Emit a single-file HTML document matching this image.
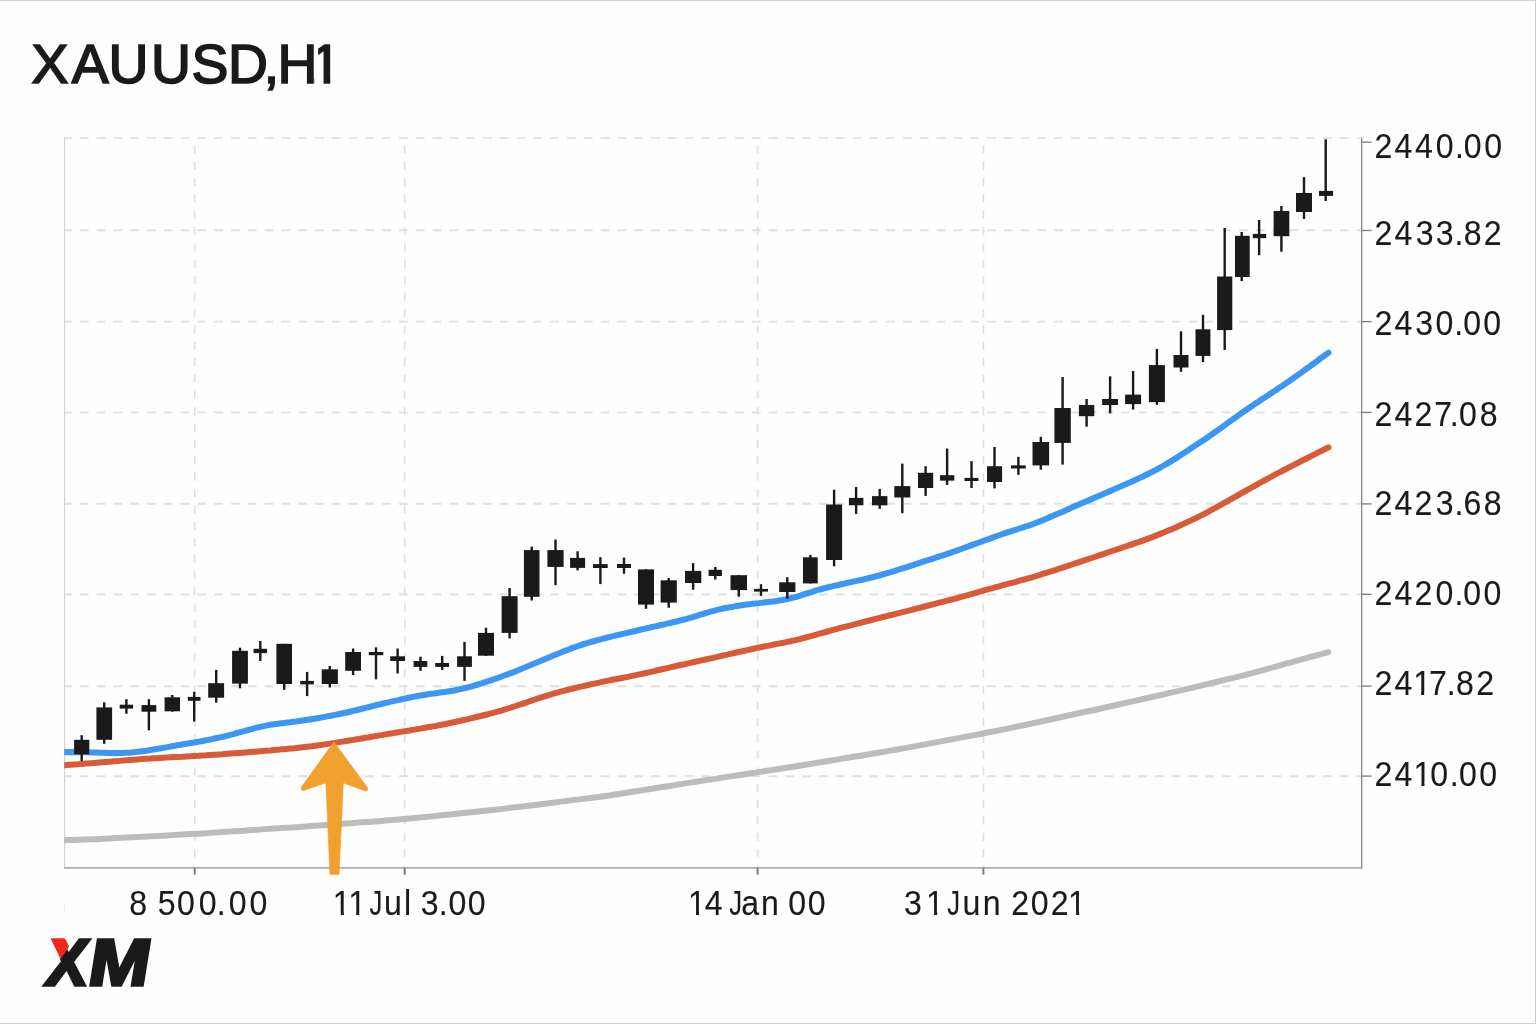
<!DOCTYPE html>
<html lang="en"><head><meta charset="utf-8"><title>XAUUSD,H1</title>
<style>
html,body{margin:0;padding:0;background:#fefefe;}
body{width:1536px;height:1024px;overflow:hidden;position:relative;}
svg{position:absolute;left:0;top:0;display:block;}
text{font-family:"Liberation Sans",sans-serif;fill:#1a1a1a;}
</style></head><body>
<svg width="1536" height="1024" viewBox="0 0 1536 1024">
<rect x="0" y="0" width="1536" height="1024" fill="#fefefe"/>
<rect x="0" y="0" width="1536" height="1" fill="#d4d4d4"/>
<rect x="0" y="1023" width="1536" height="1" fill="#d0d0d0"/>
<rect x="1535" y="0" width="1" height="1024" fill="#cdcdcd"/>
<g stroke="#e0e0e0" fill="none">
<g stroke-width="1.9" stroke-dasharray="8.7 8.1">
<line x1="63.04" y1="138.1" x2="1361" y2="138.1"/>
<line x1="63.04" y1="230.3" x2="1361" y2="230.3"/>
<line x1="63.04" y1="321.6" x2="1361" y2="321.6"/>
<line x1="63.04" y1="412.4" x2="1361" y2="412.4"/>
<line x1="63.04" y1="503.8" x2="1361" y2="503.8"/>
<line x1="63.04" y1="594.5" x2="1361" y2="594.5"/>
<line x1="63.04" y1="686.3" x2="1361" y2="686.3"/>
<line x1="63.04" y1="776.3" x2="1361" y2="776.3"/>
</g><g stroke-width="1.7" stroke-dasharray="8.2 8.17" stroke-dashoffset="9.17">
<line x1="194.7" y1="138" x2="194.7" y2="867"/>
<line x1="404.7" y1="138" x2="404.7" y2="867"/>
<line x1="757.6" y1="138" x2="757.6" y2="867"/>
<line x1="983.4" y1="138" x2="983.4" y2="867"/>
</g></g>
<rect x="62" y="130" width="1.9" height="745" fill="#fefefe"/>
<line x1="64.6" y1="136.8" x2="64.6" y2="868" stroke="#d3d3d3" stroke-width="1.15"/>
<line x1="64" y1="867.9" x2="1362.3" y2="867.9" stroke="#adadad" stroke-width="1.6"/>
<line x1="1361.7" y1="137.6" x2="1361.7" y2="868.6" stroke="#7c7c7c" stroke-width="1.2"/>
<line x1="64.5" y1="903" x2="64.5" y2="911" stroke="#f1f1f1" stroke-width="1.2"/>
<g stroke="#7e7e7e" stroke-width="1.35">
<line x1="1361.7" y1="142.2" x2="1371.6" y2="142.2"/>
<line x1="1361.7" y1="230.5" x2="1371.6" y2="230.5"/>
<line x1="1361.7" y1="321.6" x2="1371.6" y2="321.6"/>
<line x1="1361.7" y1="412.4" x2="1371.6" y2="412.4"/>
<line x1="1361.7" y1="503.9" x2="1371.6" y2="503.9"/>
<line x1="1361.7" y1="594.3" x2="1371.6" y2="594.3"/>
<line x1="1361.7" y1="686.1" x2="1371.6" y2="686.1"/>
<line x1="1361.7" y1="776.1" x2="1371.6" y2="776.1"/>
</g><g stroke="#757575" stroke-width="1.9">
<line x1="194.7" y1="867.9" x2="194.7" y2="874.6"/>
<line x1="404.7" y1="867.9" x2="404.7" y2="874.6"/>
<line x1="757.6" y1="867.9" x2="757.6" y2="874.6"/>
<line x1="983.4" y1="867.9" x2="983.4" y2="874.6"/>
</g>
<clipPath id="plot"><rect x="64.2" y="130" width="1290" height="745"/></clipPath>
<g clip-path="url(#plot)" fill="none" stroke-linecap="round" stroke-linejoin="round">
<path d="M62.0,840.4C64.7,840.3 72.7,840.0 78.0,839.8C83.4,839.6 88.7,839.4 94.1,839.2C99.4,839.0 104.7,838.7 110.1,838.4C115.4,838.2 120.8,837.9 126.1,837.6C131.5,837.3 136.8,837.0 142.1,836.7C147.5,836.4 152.8,836.1 158.2,835.9C163.5,835.6 168.9,835.3 174.2,835.0C179.5,834.7 184.9,834.4 190.2,834.1C195.6,833.8 200.9,833.5 206.3,833.2C211.6,832.8 216.9,832.5 222.3,832.1C227.6,831.7 233.0,831.4 238.3,831.0C243.7,830.7 249.0,830.3 254.3,829.9C259.7,829.6 265.0,829.2 270.4,828.8C275.7,828.5 281.1,828.1 286.4,827.8C291.8,827.4 297.1,827.0 302.4,826.7C307.8,826.3 313.1,825.9 318.5,825.5C323.8,825.1 329.2,824.7 334.5,824.3C339.8,824.0 345.2,823.6 350.5,823.2C355.9,822.8 361.2,822.4 366.6,822.0C371.9,821.6 377.2,821.3 382.6,820.9C387.9,820.5 393.3,820.1 398.6,819.6C404.0,819.1 409.3,818.6 414.6,818.1C420.0,817.5 425.3,817.0 430.7,816.4C436.0,815.9 441.4,815.3 446.7,814.7C452.0,814.2 457.4,813.6 462.7,813.1C468.1,812.5 473.4,812.0 478.8,811.4C484.1,810.8 489.4,810.3 494.8,809.7C500.1,809.1 505.5,808.5 510.8,807.8C516.2,807.2 521.5,806.5 526.8,805.9C532.2,805.2 537.5,804.6 542.9,803.9C548.2,803.2 553.6,802.6 558.9,801.9C564.2,801.3 569.6,800.6 574.9,799.9C580.3,799.3 585.6,798.6 591.0,797.9C596.3,797.2 601.6,796.5 607.0,795.7C612.3,794.9 617.7,794.1 623.0,793.2C628.4,792.4 633.7,791.5 639.0,790.7C644.4,789.9 649.7,789.0 655.1,788.2C660.4,787.3 665.8,786.5 671.1,785.7C676.4,784.8 681.8,784.0 687.1,783.1C692.5,782.3 697.8,781.5 703.2,780.6C708.5,779.8 713.9,779.0 719.2,778.1C724.5,777.3 729.9,776.5 735.2,775.7C740.6,774.9 745.9,774.0 751.3,773.2C756.6,772.4 761.9,771.6 767.3,770.7C772.6,769.9 778.0,769.1 783.3,768.3C788.7,767.4 794.0,766.6 799.3,765.8C804.7,764.9 810.0,764.0 815.4,763.1C820.7,762.3 826.1,761.4 831.4,760.5C836.7,759.6 842.1,758.7 847.4,757.8C852.8,756.9 858.1,756.1 863.5,755.2C868.8,754.3 874.1,753.4 879.5,752.5C884.8,751.6 890.2,750.7 895.5,749.8C900.9,748.9 906.2,747.9 911.5,746.9C916.9,745.9 922.2,744.9 927.6,743.9C932.9,742.9 938.3,741.9 943.6,740.9C948.9,739.9 954.3,738.9 959.6,737.9C965.0,736.9 970.3,735.9 975.7,734.9C981.0,733.9 986.3,732.9 991.7,731.8C997.0,730.8 1002.4,729.7 1007.7,728.6C1013.1,727.5 1018.4,726.3 1023.7,725.2C1029.1,724.0 1034.4,722.9 1039.8,721.7C1045.1,720.6 1050.5,719.4 1055.8,718.2C1061.1,717.1 1066.5,715.9 1071.8,714.8C1077.2,713.6 1082.5,712.5 1087.9,711.3C1093.2,710.2 1098.5,709.0 1103.9,707.8C1109.2,706.6 1114.6,705.4 1119.9,704.2C1125.3,703.0 1130.6,701.8 1136.0,700.6C1141.3,699.4 1146.6,698.2 1152.0,697.0C1157.3,695.8 1162.7,694.6 1168.0,693.4C1173.4,692.2 1178.7,690.9 1184.0,689.7C1189.4,688.4 1194.7,687.2 1200.1,685.9C1205.4,684.6 1210.8,683.3 1216.1,682.0C1221.4,680.8 1226.8,679.5 1232.1,678.2C1237.5,676.9 1242.8,675.5 1248.2,674.1C1253.5,672.7 1258.8,671.3 1264.2,669.8C1269.5,668.3 1274.9,666.8 1280.2,665.3C1285.6,663.9 1290.9,662.4 1296.2,660.9C1301.6,659.4 1306.9,658.0 1312.3,656.5C1317.6,655.1 1325.6,652.9 1328.3,652.2" stroke="#bbbcbc" stroke-width="6.0"/>
<path d="M62.0,765.4C63.3,765.3 67.3,765.0 70.0,764.8C72.7,764.6 75.4,764.4 78.0,764.2C80.7,764.0 83.4,763.8 86.0,763.6C88.7,763.4 91.4,763.2 94.1,763.0C96.7,762.8 99.4,762.6 102.1,762.3C104.8,762.1 107.4,761.9 110.1,761.7C112.8,761.5 115.4,761.2 118.1,761.0C120.8,760.8 123.5,760.5 126.1,760.3C128.8,760.1 131.5,759.9 134.1,759.7C136.8,759.5 139.5,759.3 142.2,759.1C144.8,758.9 147.5,758.7 150.2,758.6C152.8,758.4 155.5,758.2 158.2,758.1C160.9,757.9 163.5,757.8 166.2,757.6C168.9,757.4 171.5,757.3 174.2,757.1C176.9,757.0 179.6,756.8 182.2,756.7C184.9,756.5 187.6,756.4 190.3,756.2C192.9,756.1 195.6,755.9 198.3,755.8C200.9,755.6 203.6,755.4 206.3,755.3C209.0,755.1 211.6,754.9 214.3,754.7C217.0,754.5 219.6,754.3 222.3,754.2C225.0,754.0 227.7,753.8 230.3,753.6C233.0,753.4 235.7,753.2 238.3,753.0C241.0,752.8 243.7,752.6 246.4,752.4C249.0,752.2 251.7,752.0 254.4,751.7C257.1,751.5 259.7,751.3 262.4,751.1C265.1,750.8 267.7,750.6 270.4,750.4C273.1,750.1 275.8,749.9 278.4,749.7C281.1,749.4 283.8,749.2 286.4,748.9C289.1,748.7 291.8,748.4 294.5,748.2C297.1,747.9 299.8,747.6 302.5,747.3C305.1,747.0 307.8,746.7 310.5,746.4C313.2,746.1 315.8,745.7 318.5,745.3C321.2,744.9 323.9,744.5 326.5,744.1C329.2,743.7 331.9,743.3 334.5,742.9C337.2,742.5 339.9,742.1 342.6,741.6C345.2,741.2 347.9,740.8 350.6,740.3C353.2,739.9 355.9,739.5 358.6,739.0C361.3,738.6 363.9,738.1 366.6,737.6C369.3,737.2 371.9,736.7 374.6,736.3C377.3,735.8 380.0,735.3 382.6,734.9C385.3,734.4 388.0,734.0 390.6,733.5C393.3,733.1 396.0,732.6 398.7,732.2C401.3,731.8 404.0,731.3 406.7,730.9C409.4,730.5 412.0,730.0 414.7,729.6C417.4,729.2 420.0,728.7 422.7,728.2C425.4,727.8 428.1,727.3 430.7,726.8C433.4,726.4 436.1,725.9 438.7,725.3C441.4,724.8 444.1,724.3 446.8,723.7C449.4,723.2 452.1,722.6 454.8,722.0C457.4,721.5 460.1,720.9 462.8,720.3C465.5,719.7 468.1,719.1 470.8,718.4C473.5,717.8 476.2,717.2 478.8,716.5C481.5,715.9 484.2,715.2 486.8,714.5C489.5,713.9 492.2,713.1 494.9,712.4C497.5,711.6 500.2,710.9 502.9,710.1C505.5,709.2 508.2,708.4 510.9,707.6C513.6,706.7 516.2,705.8 518.9,704.9C521.6,704.1 524.2,703.2 526.9,702.3C529.6,701.3 532.3,700.4 534.9,699.5C537.6,698.6 540.3,697.7 542.9,696.9C545.6,696.0 548.3,695.2 551.0,694.4C553.6,693.6 556.3,692.8 559.0,692.1C561.7,691.3 564.3,690.7 567.0,690.0C569.7,689.3 572.3,688.6 575.0,688.0C577.7,687.3 580.4,686.7 583.0,686.1C585.7,685.4 588.4,684.9 591.0,684.3C593.7,683.7 596.4,683.1 599.1,682.6C601.7,682.0 604.4,681.5 607.1,680.9C609.7,680.4 612.4,679.9 615.1,679.3C617.8,678.8 620.4,678.3 623.1,677.7C625.8,677.2 628.5,676.7 631.1,676.1C633.8,675.6 636.5,675.0 639.1,674.4C641.8,673.9 644.5,673.3 647.2,672.7C649.8,672.1 652.5,671.5 655.2,670.8C657.8,670.2 660.5,669.6 663.2,669.0C665.9,668.4 668.5,667.8 671.2,667.1C673.9,666.5 676.5,665.9 679.2,665.3C681.9,664.7 684.6,664.2 687.2,663.6C689.9,663.0 692.6,662.4 695.2,661.8C697.9,661.2 700.6,660.6 703.3,660.0C705.9,659.4 708.6,658.8 711.3,658.3C714.0,657.7 716.6,657.1 719.3,656.4C722.0,655.8 724.6,655.2 727.3,654.6C730.0,654.0 732.7,653.4 735.3,652.8C738.0,652.2 740.7,651.6 743.3,651.0C746.0,650.4 748.7,649.8 751.4,649.2C754.0,648.6 756.7,648.1 759.4,647.5C762.0,647.0 764.7,646.4 767.4,645.9C770.1,645.4 772.7,644.8 775.4,644.3C778.1,643.8 780.8,643.2 783.4,642.7C786.1,642.1 788.8,641.6 791.4,641.0C794.1,640.4 796.8,639.7 799.5,639.1C802.1,638.4 804.8,637.7 807.5,637.0C810.1,636.3 812.8,635.6 815.5,634.8C818.2,634.1 820.8,633.3 823.5,632.6C826.2,631.9 828.8,631.1 831.5,630.4C834.2,629.7 836.9,629.0 839.5,628.2C842.2,627.5 844.9,626.8 847.6,626.1C850.2,625.5 852.9,624.8 855.6,624.1C858.2,623.4 860.9,622.7 863.6,622.0C866.3,621.3 868.9,620.7 871.6,620.0C874.3,619.3 876.9,618.6 879.6,617.9C882.3,617.3 885.0,616.6 887.6,615.9C890.3,615.2 893.0,614.6 895.6,613.9C898.3,613.2 901.0,612.5 903.7,611.8C906.3,611.2 909.0,610.5 911.7,609.8C914.3,609.1 917.0,608.5 919.7,607.8C922.4,607.1 925.0,606.4 927.7,605.7C930.4,605.1 933.1,604.4 935.7,603.7C938.4,603.0 941.1,602.3 943.7,601.6C946.4,600.9 949.1,600.2 951.8,599.5C954.4,598.8 957.1,598.1 959.8,597.3C962.4,596.6 965.1,595.8 967.8,595.1C970.5,594.3 973.1,593.6 975.8,592.8C978.5,592.0 981.1,591.3 983.8,590.5C986.5,589.8 989.2,589.0 991.8,588.3C994.5,587.6 997.2,586.8 999.9,586.1C1002.5,585.4 1005.2,584.6 1007.9,583.9C1010.5,583.2 1013.2,582.5 1015.9,581.8C1018.6,581.0 1021.2,580.3 1023.9,579.5C1026.6,578.8 1029.2,578.0 1031.9,577.3C1034.6,576.5 1037.3,575.7 1039.9,574.9C1042.6,574.0 1045.3,573.2 1047.9,572.4C1050.6,571.5 1053.3,570.6 1056.0,569.8C1058.6,568.9 1061.3,568.0 1064.0,567.2C1066.6,566.3 1069.3,565.4 1072.0,564.5C1074.7,563.6 1077.3,562.7 1080.0,561.8C1082.7,560.9 1085.4,560.0 1088.0,559.1C1090.7,558.3 1093.4,557.4 1096.0,556.5C1098.7,555.6 1101.4,554.7 1104.1,553.8C1106.7,552.8 1109.4,551.9 1112.1,551.0C1114.7,550.1 1117.4,549.2 1120.1,548.3C1122.8,547.4 1125.4,546.6 1128.1,545.7C1130.8,544.8 1133.4,543.9 1136.1,542.9C1138.8,542.0 1141.5,541.1 1144.1,540.1C1146.8,539.1 1149.5,538.1 1152.2,537.1C1154.8,536.1 1157.5,535.0 1160.2,533.9C1162.8,532.9 1165.5,531.8 1168.2,530.6C1170.9,529.5 1173.5,528.4 1176.2,527.2C1178.9,526.0 1181.5,524.9 1184.2,523.6C1186.9,522.4 1189.6,521.2 1192.2,519.9C1194.9,518.6 1197.6,517.3 1200.2,515.9C1202.9,514.6 1205.6,513.2 1208.3,511.8C1210.9,510.3 1213.6,508.9 1216.3,507.4C1219.0,505.9 1221.6,504.4 1224.3,502.9C1227.0,501.4 1229.6,499.9 1232.3,498.4C1235.0,496.9 1237.7,495.4 1240.3,493.9C1243.0,492.4 1245.7,490.9 1248.3,489.4C1251.0,487.9 1253.7,486.4 1256.4,484.9C1259.0,483.4 1261.7,481.9 1264.4,480.4C1267.0,479.0 1269.7,477.5 1272.4,476.1C1275.1,474.7 1277.7,473.2 1280.4,471.8C1283.1,470.4 1285.7,469.0 1288.4,467.7C1291.1,466.3 1293.8,464.9 1296.4,463.6C1299.1,462.2 1301.8,460.9 1304.5,459.5C1307.1,458.1 1309.8,456.8 1312.5,455.4C1315.1,454.1 1317.8,452.7 1320.5,451.4C1323.2,450.0 1327.2,448.1 1328.5,447.4" stroke="#d85a36" stroke-width="6.0"/>
<path d="M62.0,752.1C63.0,752.1 66.0,752.1 68.0,752.1C70.0,752.1 72.0,752.1 74.0,752.1C76.0,752.1 78.0,752.1 80.0,752.1C82.0,752.2 84.0,752.2 86.0,752.2C88.0,752.2 90.0,752.3 92.0,752.4C94.0,752.4 96.0,752.5 98.0,752.6C100.0,752.6 102.0,752.7 104.0,752.8C106.0,752.9 108.0,753.0 110.0,753.0C112.0,753.0 114.0,753.1 116.0,753.1C118.0,753.1 120.0,753.1 122.0,753.0C124.0,752.9 126.0,752.8 128.0,752.7C130.0,752.5 132.0,752.4 134.0,752.2C136.0,752.0 138.0,751.8 140.0,751.5C142.0,751.3 144.0,751.0 146.0,750.7C148.0,750.4 150.0,750.1 152.0,749.8C154.0,749.5 156.0,749.1 158.0,748.8C160.0,748.4 162.0,748.1 164.0,747.7C166.0,747.4 168.0,747.0 170.0,746.6C172.0,746.3 174.0,745.9 176.0,745.5C178.0,745.2 180.0,744.8 182.0,744.5C184.0,744.2 186.0,743.8 188.0,743.5C190.1,743.2 192.1,742.8 194.1,742.5C196.1,742.1 198.1,741.8 200.1,741.4C202.1,741.1 204.1,740.7 206.1,740.3C208.1,739.9 210.1,739.5 212.1,739.1C214.1,738.7 216.1,738.3 218.1,737.8C220.1,737.4 222.1,736.9 224.1,736.5C226.1,736.0 228.1,735.5 230.1,734.9C232.1,734.4 234.1,733.9 236.1,733.3C238.1,732.8 240.1,732.2 242.1,731.6C244.1,731.1 246.1,730.5 248.1,730.0C250.1,729.4 252.1,728.9 254.1,728.4C256.1,727.9 258.1,727.4 260.1,726.9C262.1,726.4 264.1,726.0 266.1,725.6C268.1,725.2 270.1,724.9 272.1,724.6C274.1,724.3 276.1,724.0 278.1,723.7C280.1,723.4 282.1,723.2 284.1,722.9C286.1,722.7 288.1,722.4 290.1,722.2C292.1,721.9 294.1,721.6 296.1,721.4C298.1,721.1 300.1,720.9 302.1,720.6C304.1,720.3 306.1,720.0 308.1,719.7C310.1,719.4 312.1,719.1 314.1,718.8C316.1,718.5 318.1,718.1 320.1,717.8C322.1,717.4 324.1,717.0 326.1,716.6C328.1,716.2 330.1,715.9 332.1,715.5C334.1,715.1 336.1,714.7 338.1,714.3C340.1,713.9 342.1,713.5 344.1,713.0C346.1,712.6 348.1,712.2 350.1,711.7C352.1,711.3 354.1,710.8 356.1,710.3C358.1,709.8 360.1,709.3 362.1,708.8C364.1,708.3 366.1,707.8 368.1,707.2C370.1,706.7 372.1,706.2 374.1,705.7C376.1,705.2 378.1,704.7 380.1,704.3C382.1,703.8 384.1,703.3 386.1,702.8C388.1,702.3 390.1,701.9 392.1,701.4C394.1,700.9 396.1,700.5 398.1,700.1C400.1,699.6 402.1,699.2 404.1,698.8C406.1,698.3 408.1,697.9 410.1,697.5C412.1,697.1 414.1,696.7 416.1,696.3C418.1,695.9 420.1,695.6 422.1,695.2C424.1,694.9 426.1,694.6 428.1,694.2C430.1,693.9 432.1,693.6 434.1,693.4C436.1,693.1 438.1,692.8 440.1,692.5C442.2,692.3 444.2,692.0 446.2,691.7C448.2,691.4 450.2,691.1 452.2,690.8C454.2,690.4 456.2,690.1 458.2,689.6C460.2,689.2 462.2,688.8 464.2,688.3C466.2,687.8 468.2,687.3 470.2,686.8C472.2,686.2 474.2,685.6 476.2,685.0C478.2,684.4 480.2,683.8 482.2,683.2C484.2,682.5 486.2,681.9 488.2,681.2C490.2,680.6 492.2,679.9 494.2,679.2C496.2,678.5 498.2,677.8 500.2,677.0C502.2,676.3 504.2,675.6 506.2,674.8C508.2,674.1 510.2,673.3 512.2,672.6C514.2,671.8 516.2,671.0 518.2,670.2C520.2,669.4 522.2,668.6 524.2,667.7C526.2,666.9 528.2,666.1 530.2,665.2C532.2,664.4 534.2,663.5 536.2,662.7C538.2,661.9 540.2,661.0 542.2,660.2C544.2,659.4 546.2,658.5 548.2,657.7C550.2,656.9 552.2,656.0 554.2,655.2C556.2,654.4 558.2,653.6 560.2,652.8C562.2,652.0 564.2,651.2 566.2,650.4C568.2,649.6 570.2,648.9 572.2,648.1C574.2,647.4 576.2,646.7 578.2,646.0C580.2,645.3 582.2,644.6 584.2,644.0C586.2,643.4 588.2,642.8 590.2,642.2C592.2,641.6 594.2,641.0 596.2,640.5C598.2,639.9 600.2,639.4 602.2,638.9C604.2,638.3 606.2,637.8 608.2,637.3C610.2,636.8 612.2,636.4 614.2,635.9C616.2,635.4 618.2,634.9 620.2,634.5C622.2,634.0 624.2,633.5 626.2,633.1C628.2,632.6 630.2,632.1 632.2,631.7C634.2,631.2 636.2,630.7 638.2,630.2C640.2,629.8 642.2,629.3 644.2,628.9C646.2,628.4 648.2,627.9 650.2,627.5C652.2,627.0 654.2,626.6 656.2,626.1C658.2,625.7 660.2,625.2 662.2,624.8C664.2,624.3 666.2,623.9 668.2,623.4C670.2,622.9 672.2,622.5 674.2,622.0C676.2,621.5 678.2,621.0 680.2,620.5C682.2,620.0 684.2,619.5 686.2,619.0C688.2,618.4 690.2,617.9 692.2,617.3C694.2,616.7 696.3,616.0 698.3,615.4C700.3,614.8 702.3,614.1 704.3,613.5C706.3,612.9 708.3,612.3 710.3,611.7C712.3,611.1 714.3,610.6 716.3,610.1C718.3,609.6 720.3,609.2 722.3,608.7C724.3,608.3 726.3,607.8 728.3,607.5C730.3,607.1 732.3,606.7 734.3,606.4C736.3,606.0 738.3,605.7 740.3,605.4C742.3,605.1 744.3,604.9 746.3,604.6C748.3,604.3 750.3,604.1 752.3,603.8C754.3,603.6 756.3,603.4 758.3,603.2C760.3,602.9 762.3,602.7 764.3,602.5C766.3,602.3 768.3,602.1 770.3,601.8C772.3,601.6 774.3,601.3 776.3,601.1C778.3,600.8 780.3,600.4 782.3,600.1C784.3,599.7 786.3,599.3 788.3,598.9C790.3,598.4 792.3,597.9 794.3,597.4C796.3,596.9 798.3,596.3 800.3,595.6C802.3,595.0 804.3,594.4 806.3,593.7C808.3,593.1 810.3,592.4 812.3,591.8C814.3,591.1 816.3,590.5 818.3,589.9C820.3,589.3 822.3,588.8 824.3,588.3C826.3,587.8 828.3,587.3 830.3,586.8C832.3,586.3 834.3,585.9 836.3,585.4C838.3,584.9 840.3,584.5 842.3,584.0C844.3,583.6 846.3,583.1 848.3,582.7C850.3,582.3 852.3,581.9 854.3,581.4C856.3,581.0 858.3,580.6 860.3,580.1C862.3,579.7 864.3,579.2 866.3,578.8C868.3,578.3 870.3,577.8 872.3,577.3C874.3,576.8 876.3,576.2 878.3,575.7C880.3,575.2 882.3,574.6 884.3,574.0C886.3,573.4 888.3,572.9 890.3,572.3C892.3,571.7 894.3,571.0 896.3,570.4C898.3,569.8 900.3,569.2 902.3,568.5C904.3,567.9 906.3,567.2 908.3,566.6C910.3,565.9 912.3,565.3 914.3,564.6C916.3,564.0 918.3,563.3 920.3,562.7C922.3,562.0 924.3,561.4 926.3,560.7C928.3,560.1 930.3,559.5 932.3,558.8C934.3,558.2 936.3,557.6 938.3,556.9C940.3,556.2 942.3,555.6 944.3,554.9C946.3,554.2 948.3,553.6 950.4,552.8C952.4,552.1 954.4,551.4 956.4,550.7C958.4,550.0 960.4,549.3 962.4,548.5C964.4,547.8 966.4,547.1 968.4,546.4C970.4,545.6 972.4,544.9 974.4,544.2C976.4,543.5 978.4,542.8 980.4,542.0C982.4,541.3 984.4,540.6 986.4,539.8C988.4,539.1 990.4,538.4 992.4,537.6C994.4,536.9 996.4,536.2 998.4,535.5C1000.4,534.8 1002.4,534.1 1004.4,533.4C1006.4,532.7 1008.4,532.1 1010.4,531.5C1012.4,530.8 1014.4,530.2 1016.4,529.6C1018.4,528.9 1020.4,528.3 1022.4,527.7C1024.4,527.0 1026.4,526.3 1028.4,525.7C1030.4,525.0 1032.4,524.2 1034.4,523.5C1036.4,522.7 1038.4,521.9 1040.4,521.1C1042.4,520.3 1044.4,519.5 1046.4,518.7C1048.4,517.8 1050.4,517.0 1052.4,516.1C1054.4,515.2 1056.4,514.4 1058.4,513.5C1060.4,512.6 1062.4,511.8 1064.4,510.9C1066.4,510.0 1068.4,509.1 1070.4,508.2C1072.4,507.4 1074.4,506.5 1076.4,505.6C1078.4,504.7 1080.4,503.9 1082.4,503.0C1084.4,502.1 1086.4,501.3 1088.4,500.4C1090.4,499.5 1092.4,498.7 1094.4,497.8C1096.4,497.0 1098.4,496.1 1100.4,495.2C1102.4,494.4 1104.4,493.5 1106.4,492.7C1108.4,491.8 1110.4,490.9 1112.4,490.1C1114.4,489.2 1116.4,488.3 1118.4,487.5C1120.4,486.6 1122.4,485.7 1124.4,484.8C1126.4,484.0 1128.4,483.1 1130.4,482.2C1132.4,481.3 1134.4,480.4 1136.4,479.5C1138.4,478.6 1140.4,477.6 1142.4,476.7C1144.4,475.7 1146.4,474.7 1148.4,473.7C1150.4,472.7 1152.4,471.7 1154.4,470.7C1156.4,469.6 1158.4,468.6 1160.4,467.5C1162.4,466.3 1164.4,465.2 1166.4,464.0C1168.4,462.9 1170.4,461.7 1172.4,460.4C1174.4,459.2 1176.4,457.9 1178.4,456.6C1180.4,455.3 1182.4,454.0 1184.4,452.7C1186.4,451.4 1188.4,450.1 1190.4,448.8C1192.4,447.4 1194.4,446.1 1196.4,444.8C1198.4,443.5 1200.4,442.1 1202.5,440.8C1204.5,439.4 1206.5,438.1 1208.5,436.7C1210.5,435.3 1212.5,434.0 1214.5,432.5C1216.5,431.1 1218.5,429.7 1220.5,428.3C1222.5,426.8 1224.5,425.4 1226.5,423.9C1228.5,422.5 1230.5,421.0 1232.5,419.6C1234.5,418.2 1236.5,416.7 1238.5,415.3C1240.5,413.8 1242.5,412.4 1244.5,411.0C1246.5,409.6 1248.5,408.3 1250.5,406.9C1252.5,405.6 1254.5,404.2 1256.5,402.9C1258.5,401.6 1260.5,400.2 1262.5,398.9C1264.5,397.6 1266.5,396.3 1268.5,395.0C1270.5,393.6 1272.5,392.3 1274.5,391.0C1276.5,389.7 1278.5,388.3 1280.5,387.0C1282.5,385.7 1284.5,384.3 1286.5,383.0C1288.5,381.6 1290.5,380.2 1292.5,378.8C1294.5,377.4 1296.5,376.0 1298.5,374.6C1300.5,373.1 1302.5,371.7 1304.5,370.2C1306.5,368.8 1308.5,367.3 1310.5,365.9C1312.5,364.4 1314.5,363.0 1316.5,361.5C1318.5,360.0 1320.5,358.5 1322.5,357.1C1324.5,355.6 1327.5,353.4 1328.5,352.6" stroke="#3b97f3" stroke-width="6.05"/>
</g>
<g fill="#1a1a1a">
<rect x="80.5" y="735.2" width="2.4" height="25.9"/>
<rect x="74.1" y="739.8" width="15.2" height="14.5"/>
<rect x="103.0" y="702.3" width="2.4" height="41.5"/>
<rect x="96.4" y="707.4" width="15.7" height="32.4"/>
<rect x="125.2" y="699.2" width="2.4" height="14.5"/>
<rect x="119.7" y="704.7" width="13.4" height="3.9"/>
<rect x="147.7" y="699.2" width="2.4" height="31.1"/>
<rect x="141.5" y="705.1" width="14.8" height="6.6"/>
<rect x="171.1" y="695.0" width="2.4" height="16.7"/>
<rect x="164.6" y="697.3" width="15.4" height="14.0"/>
<rect x="193.0" y="691.8" width="2.4" height="29.7"/>
<rect x="187.8" y="696.9" width="12.7" height="3.9"/>
<rect x="215.0" y="669.9" width="2.4" height="32.8"/>
<rect x="208.2" y="683.2" width="15.9" height="14.5"/>
<rect x="238.8" y="647.7" width="2.4" height="40.6"/>
<rect x="232.1" y="650.8" width="15.8" height="32.8"/>
<rect x="259.1" y="641.0" width="2.4" height="19.9"/>
<rect x="253.5" y="648.8" width="13.6" height="4.3"/>
<rect x="283.0" y="643.8" width="2.4" height="46.0"/>
<rect x="276.4" y="643.8" width="15.6" height="40.2"/>
<rect x="305.9" y="671.9" width="2.4" height="24.2"/>
<rect x="300.2" y="680.9" width="13.7" height="3.5"/>
<rect x="328.6" y="666.0" width="2.4" height="21.5"/>
<rect x="321.7" y="669.3" width="16.2" height="14.7"/>
<rect x="351.9" y="648.5" width="2.4" height="26.5"/>
<rect x="345.2" y="652.0" width="15.8" height="18.8"/>
<rect x="374.8" y="647.3" width="2.4" height="32.1"/>
<rect x="368.8" y="652.0" width="14.5" height="3.2"/>
<rect x="396.4" y="648.5" width="2.4" height="25.0"/>
<rect x="390.2" y="656.3" width="14.8" height="4.7"/>
<rect x="419.3" y="656.7" width="2.4" height="14.1"/>
<rect x="413.6" y="661.0" width="13.7" height="5.9"/>
<rect x="441.0" y="655.9" width="2.4" height="14.1"/>
<rect x="435.2" y="663.0" width="13.9" height="3.9"/>
<rect x="463.3" y="641.9" width="2.4" height="39.0"/>
<rect x="457.1" y="656.3" width="14.8" height="10.6"/>
<rect x="484.8" y="627.8" width="2.4" height="27.9"/>
<rect x="478.0" y="632.9" width="16.0" height="22.8"/>
<rect x="508.4" y="588.0" width="2.4" height="50.4"/>
<rect x="501.6" y="596.2" width="16.0" height="36.7"/>
<rect x="530.5" y="546.6" width="2.4" height="53.9"/>
<rect x="523.9" y="550.1" width="15.6" height="46.7"/>
<rect x="554.3" y="539.5" width="2.4" height="45.7"/>
<rect x="547.4" y="550.1" width="16.2" height="16.8"/>
<rect x="576.4" y="551.3" width="2.4" height="19.1"/>
<rect x="570.1" y="557.9" width="15.0" height="10.0"/>
<rect x="599.2" y="557.1" width="2.4" height="27.0"/>
<rect x="593.0" y="564.1" width="14.7" height="3.9"/>
<rect x="622.8" y="557.6" width="2.4" height="16.2"/>
<rect x="617.0" y="564.0" width="14.0" height="4.0"/>
<rect x="644.8" y="569.4" width="2.4" height="39.4"/>
<rect x="638.0" y="569.4" width="16.0" height="35.2"/>
<rect x="667.5" y="578.0" width="2.4" height="29.7"/>
<rect x="660.6" y="580.3" width="16.2" height="22.3"/>
<rect x="691.9" y="563.1" width="2.4" height="26.6"/>
<rect x="685.0" y="570.9" width="16.3" height="12.1"/>
<rect x="714.1" y="567.0" width="2.4" height="12.5"/>
<rect x="708.6" y="569.8" width="13.3" height="6.2"/>
<rect x="737.6" y="575.2" width="2.4" height="21.5"/>
<rect x="730.5" y="575.2" width="16.5" height="14.9"/>
<rect x="759.8" y="584.2" width="2.4" height="11.7"/>
<rect x="754.0" y="588.9" width="14.0" height="2.7"/>
<rect x="786.1" y="577.2" width="2.4" height="21.5"/>
<rect x="779.2" y="582.3" width="16.2" height="9.7"/>
<rect x="809.2" y="554.9" width="2.4" height="28.5"/>
<rect x="803.0" y="557.3" width="14.7" height="26.1"/>
<rect x="832.9" y="489.7" width="2.4" height="76.6"/>
<rect x="826.1" y="504.5" width="16.0" height="55.5"/>
<rect x="854.9" y="487.0" width="2.4" height="26.9"/>
<rect x="848.9" y="497.9" width="14.5" height="7.4"/>
<rect x="878.5" y="488.9" width="2.4" height="19.9"/>
<rect x="872.0" y="496.1" width="15.4" height="9.2"/>
<rect x="901.1" y="463.6" width="2.4" height="49.6"/>
<rect x="894.3" y="486.1" width="16.0" height="11.4"/>
<rect x="924.4" y="466.2" width="2.4" height="29.7"/>
<rect x="918.0" y="472.8" width="15.2" height="15.2"/>
<rect x="945.9" y="448.6" width="2.4" height="36.3"/>
<rect x="940.0" y="475.2" width="14.3" height="5.4"/>
<rect x="970.3" y="461.1" width="2.4" height="26.9"/>
<rect x="964.5" y="477.9" width="13.9" height="3.1"/>
<rect x="993.3" y="447.0" width="2.4" height="41.4"/>
<rect x="987.0" y="466.2" width="15.1" height="15.8"/>
<rect x="1017.2" y="456.8" width="2.4" height="18.0"/>
<rect x="1010.9" y="465.4" width="14.9" height="3.1"/>
<rect x="1039.6" y="436.9" width="2.4" height="32.8"/>
<rect x="1032.5" y="442.0" width="16.6" height="23.4"/>
<rect x="1061.4" y="377.1" width="2.4" height="87.5"/>
<rect x="1054.4" y="408.0" width="16.4" height="34.9"/>
<rect x="1085.4" y="399.0" width="2.4" height="27.7"/>
<rect x="1078.9" y="405.0" width="15.4" height="11.2"/>
<rect x="1108.9" y="376.3" width="2.4" height="37.1"/>
<rect x="1102.1" y="399.0" width="15.9" height="6.0"/>
<rect x="1131.9" y="371.0" width="2.4" height="38.5"/>
<rect x="1125.1" y="394.6" width="16.0" height="9.5"/>
<rect x="1155.7" y="348.9" width="2.4" height="55.9"/>
<rect x="1148.9" y="365.1" width="16.0" height="37.0"/>
<rect x="1179.8" y="331.3" width="2.4" height="40.5"/>
<rect x="1173.5" y="355.0" width="15.0" height="12.5"/>
<rect x="1201.8" y="314.8" width="2.4" height="47.3"/>
<rect x="1195.5" y="329.3" width="14.9" height="26.6"/>
<rect x="1223.5" y="228.0" width="2.4" height="122.0"/>
<rect x="1217.1" y="276.5" width="15.2" height="53.6"/>
<rect x="1240.5" y="232.0" width="2.4" height="49.0"/>
<rect x="1235.0" y="235.8" width="14.7" height="41.2"/>
<rect x="1257.9" y="220.0" width="2.4" height="35.2"/>
<rect x="1252.8" y="233.9" width="13.4" height="4.3"/>
<rect x="1280.2" y="206.0" width="2.4" height="45.7"/>
<rect x="1273.6" y="211.0" width="15.7" height="25.2"/>
<rect x="1302.8" y="177.2" width="2.4" height="41.8"/>
<rect x="1296.0" y="193.0" width="16.0" height="19.0"/>
<rect x="1324.5" y="139.3" width="2.4" height="61.7"/>
<rect x="1319.0" y="190.9" width="14.1" height="5.0"/>
</g>
<path d="M333.9,742.0 L367.4,787.4 Q369.0,790.2 366.0,791.2 L343.3,782.9 L339.1,874.5 L330.0,874.5 L325.8,782.9 L303.0,790.7 Q300.0,789.8 301.4,787.0 Z" fill="#f0a02d" stroke="#f0a02d" stroke-width="0.6" stroke-linejoin="round"/>
<text y="83.45" font-size="55.3" fill="#1a1a1a" stroke="#1a1a1a" stroke-width="1.7" stroke-linejoin="miter" xml:space="preserve" ><tspan x="31.62 71.71 108.43 150.93 191.42 227.94 263.72 277.47 310.56">XAUUSD,H1</tspan></text><rect x="330.25" y="77.77" width="10.21" height="7.88" fill="#fefefe"/><rect x="314.25" y="77.77" width="9.31" height="7.88" fill="#fefefe"/><rect x="314.43" y="42.53" width="3.67" height="22.12" fill="#fefefe"/>
<text transform="scale(0.925,1)" y="157.64" font-size="34.7" fill="#101010" stroke="#101010" stroke-width="0.12" stroke-linejoin="miter" xml:space="preserve" ><tspan x="1486.08 1507.65 1529.76 1552.24 1573.07 1582.46 1604.51">2440.00</tspan></text>
<text transform="scale(0.925,1)" y="245.14" font-size="34.7" fill="#101010" stroke="#101010" stroke-width="0.12" stroke-linejoin="miter" xml:space="preserve" ><tspan x="1486.08 1507.65 1530.51 1552.13 1572.42 1582.46 1604.13">2433.82</tspan></text>
<text transform="scale(0.925,1)" y="335.34" font-size="34.7" fill="#101010" stroke="#101010" stroke-width="0.12" stroke-linejoin="miter" xml:space="preserve" ><tspan x="1486.08 1507.65 1529.97 1551.86 1572.21 1581.97 1603.65">2430.00</tspan></text>
<text transform="scale(0.925,1)" y="425.54" font-size="34.7" fill="#101010" stroke="#101010" stroke-width="0.12" stroke-linejoin="miter" xml:space="preserve" ><tspan x="1486.08 1507.65 1529.32 1550.55 1567.34 1577.38 1599.70">2427.08</tspan></text>
<text transform="scale(0.925,1)" y="515.34" font-size="34.7" fill="#101010" stroke="#101010" stroke-width="0.12" stroke-linejoin="miter" xml:space="preserve" ><tspan x="1486.08 1507.65 1529.32 1552.13 1572.37 1582.18 1604.13">2423.68</tspan></text>
<text transform="scale(0.925,1)" y="605.14" font-size="34.7" fill="#101010" stroke="#101010" stroke-width="0.12" stroke-linejoin="miter" xml:space="preserve" ><tspan x="1486.08 1507.65 1529.32 1551.86 1572.37 1581.97 1603.76">2420.00</tspan></text>
<text transform="scale(0.925,1)" y="695.34" font-size="34.7" fill="#101010" stroke="#101010" stroke-width="0.12" stroke-linejoin="miter" xml:space="preserve" ><tspan x="1486.08 1507.65 1527.71 1544.98 1564.04 1574.03 1595.86">2417.82</tspan></text><rect x="1424.15" y="691.99" width="6.33" height="5.55" fill="#fefefe"/><rect x="1414.52" y="691.99" width="6.58" height="5.55" fill="#fefefe"/>
<text transform="scale(0.925,1)" y="785.54" font-size="34.7" fill="#101010" stroke="#101010" stroke-width="0.12" stroke-linejoin="miter" xml:space="preserve" ><tspan x="1486.08 1507.65 1528.03 1546.30 1567.34 1577.38 1599.22">2410.00</tspan></text><rect x="1424.45" y="782.19" width="6.33" height="5.55" fill="#fefefe"/><rect x="1414.82" y="782.19" width="6.58" height="5.55" fill="#fefefe"/>
<text transform="scale(0.925,1)" y="915.04" font-size="34.7" fill="#101010" stroke="#101010" stroke-width="0.12" stroke-linejoin="miter" xml:space="preserve" ><tspan x="139.76 159.05 170.60 191.49 215.00 234.31 247.22 269.81">8 500.00</tspan></text>
<text transform="scale(0.925,1)" y="915.04" font-size="34.7" fill="#101010" stroke="#101010" stroke-width="0.12" stroke-linejoin="miter" xml:space="preserve" ><tspan x="359.82 376.47 395.77">11 </tspan><tspan x="399.47" textLength="13.88" lengthAdjust="spacingAndGlyphs">J</tspan><tspan x="415.19 436.68 444.39 454.78 474.37 484.84 505.81">ul 3.00</tspan></text><rect x="343.85" y="911.69" width="6.33" height="5.55" fill="#fefefe"/><rect x="334.22" y="911.69" width="6.58" height="5.55" fill="#fefefe"/><rect x="335.26" y="889.36" width="0.04" height="13.88" fill="#fefefe"/><rect x="359.25" y="911.69" width="6.33" height="5.55" fill="#fefefe"/><rect x="349.62" y="911.69" width="6.58" height="5.55" fill="#fefefe"/><rect x="350.66" y="889.36" width="0.14" height="13.88" fill="#fefefe"/>
<text transform="scale(0.925,1)" y="915.04" font-size="34.7" fill="#101010" stroke="#101010" stroke-width="0.12" stroke-linejoin="miter" xml:space="preserve" ><tspan x="743.82 761.81 781.11">14 </tspan><tspan x="788.33" textLength="13.88" lengthAdjust="spacingAndGlyphs">J</tspan><tspan x="801.40 822.70 842.00 852.19 873.27">an 00</tspan></text><rect x="699.05" y="911.69" width="6.33" height="5.55" fill="#fefefe"/><rect x="689.42" y="911.69" width="6.58" height="5.55" fill="#fefefe"/><rect x="690.46" y="889.36" width="0.14" height="13.88" fill="#fefefe"/>
<text transform="scale(0.925,1)" y="915.04" font-size="34.7" fill="#101010" stroke="#101010" stroke-width="0.12" stroke-linejoin="miter" xml:space="preserve" ><tspan x="977.43 1001.22 1020.52">31 </tspan><tspan x="1024.12" textLength="13.88" lengthAdjust="spacingAndGlyphs">J</tspan><tspan x="1040.48 1062.43 1081.73 1093.16 1114.24 1135.97 1154.74">un 2021</tspan></text><rect x="937.15" y="911.69" width="6.33" height="5.55" fill="#fefefe"/><rect x="927.52" y="911.69" width="6.58" height="5.55" fill="#fefefe"/><rect x="1079.15" y="911.69" width="6.33" height="5.55" fill="#fefefe"/><rect x="1069.52" y="911.69" width="6.58" height="5.55" fill="#fefefe"/>
<g id="logo">
<text transform="translate(0,986.5) skewX(3) translate(0,-986.5)" y="984.9" font-size="65.4" font-weight="bold" font-style="italic" stroke="#1a1a1a" stroke-width="3.4" stroke-linejoin="miter"><tspan x="47.6" textLength="40.9" lengthAdjust="spacingAndGlyphs">X</tspan><tspan x="90.0" textLength="60.4" lengthAdjust="spacingAndGlyphs">M</tspan></text>
<polygon points="44,936 65,936 68.6,946.3 60.2,958.4 57.0,958.4" fill="#fefefe"/>
<path d="M51.6,938.2 L63.6,938.2 Q65.0,938.3 65.8,939.7 L69.1,946.4 L60.6,958.9 L51.0,939.2 Q50.7,938.2 51.6,938.2 Z" fill="#f0281a"/>
</g>
</svg>
</body></html>
